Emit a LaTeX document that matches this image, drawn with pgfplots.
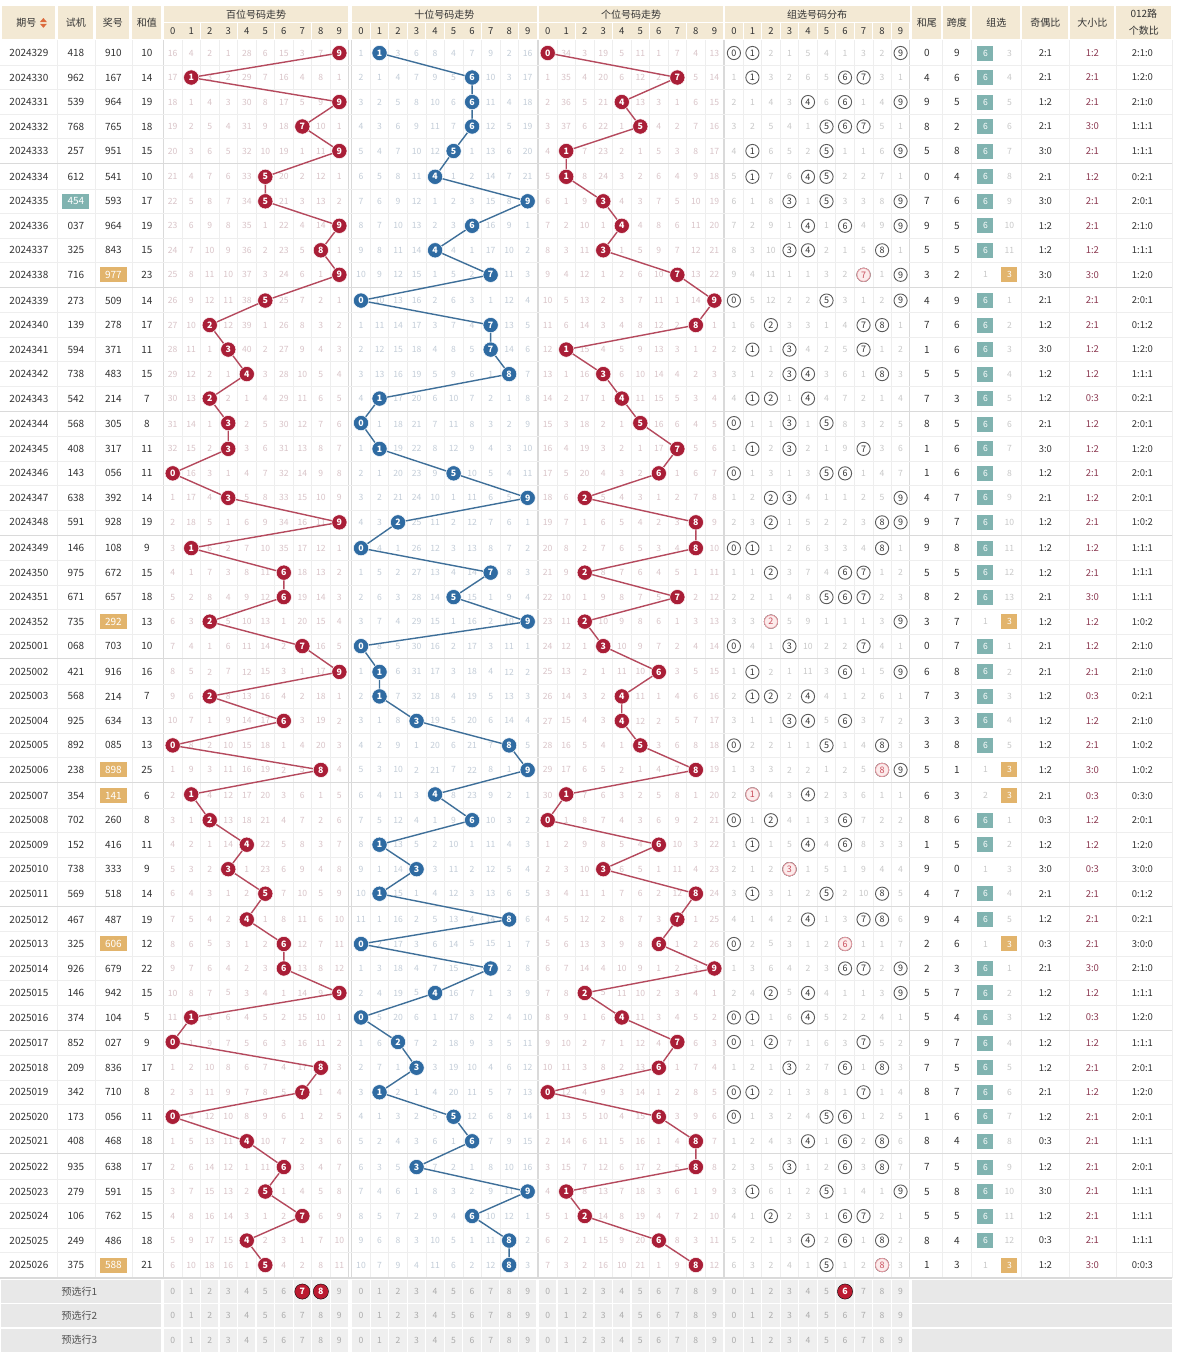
\documentclass[border=0pt]{standalone}
\usepackage{fontspec}
\setmainfont{Noto Sans CJK SC}
\usepackage{pgfplots}
\usepackage{pgfplotstable}
\pgfplotsset{compat=1.18}

\definecolor{hdr}{HTML}{F3E9D4}
\definecolor{txt}{HTML}{333333}
\definecolor{ballr}{HTML}{A91E37}
\definecolor{ballb}{HTML}{2F6BA2}
\definecolor{liner}{HTML}{B5495D}
\definecolor{lineb}{HTML}{3E6F99}
\definecolor{omr}{HTML}{D9C4C8}
\definecolor{omb}{HTML}{C3CDD8}
\definecolor{omg}{HTML}{C8C8C8}
\definecolor{gridc}{HTML}{EEEEEE}
\definecolor{gridd}{HTML}{DADADA}
\definecolor{circ}{HTML}{5A5A5A}
\definecolor{pinkf}{HTML}{FCECEC}
\definecolor{pinkd}{HTML}{E39AA2}
\definecolor{pinkt}{HTML}{C9505E}
\definecolor{teal6}{HTML}{80B3B0}
\definecolor{org3}{HTML}{E2B46C}
\definecolor{bigc}{HTML}{8C3A52}
\definecolor{sortc}{HTML}{DC6A3C}
\definecolor{prelab}{HTML}{E8E8E8}
\definecolor{precell}{HTML}{EFEFEF}
\definecolor{predig}{HTML}{ABABAB}
\definecolor{preball}{HTML}{BB1A30}

% draw results: period, test number, hundreds/tens/units digit, sum
\pgfplotstableread{
qh sj h t u hz
2024329 418 9 1 0 10
2024330 962 1 6 7 14
2024331 539 9 6 4 19
2024332 768 7 6 5 18
2024333 257 9 5 1 15
2024334 612 5 4 1 10
2024335 454 5 9 3 17
2024336 037 9 6 4 19
2024337 325 8 4 3 15
2024338 716 9 7 7 23
2024339 273 5 0 9 14
2024340 139 2 7 8 17
2024341 594 3 7 1 11
2024342 738 4 8 3 15
2024343 542 2 1 4 7
2024344 568 3 0 5 8
2024345 408 3 1 7 11
2024346 143 0 5 6 11
2024347 638 3 9 2 14
2024348 591 9 2 8 19
2024349 146 1 0 8 9
2024350 975 6 7 2 15
2024351 671 6 5 7 18
2024352 735 2 9 2 13
2025001 068 7 0 3 10
2025002 421 9 1 6 16
2025003 568 2 1 4 7
2025004 925 6 3 4 13
2025005 892 0 8 5 13
2025006 238 8 9 8 25
2025007 354 1 4 1 6
2025008 702 2 6 0 8
2025009 152 4 1 6 11
2025010 738 3 3 3 9
2025011 569 5 1 8 14
2025012 467 4 8 7 19
2025013 325 6 0 6 12
2025014 926 6 7 9 22
2025015 146 9 4 2 15
2025016 374 1 0 4 5
2025017 852 0 2 7 9
2025018 209 8 3 6 17
2025019 342 7 1 0 8
2025020 173 0 5 6 11
2025021 408 4 6 8 18
2025022 935 6 3 8 17
2025023 279 5 9 1 15
2025024 106 7 6 2 15
2025025 249 4 8 6 18
2025026 375 5 8 8 21
}\kj

% repeated digit of the 组三 / 豹子 draws (row, digit)
\pgfplotstableread{
i d
9 7
23 2
29 8
30 1
33 3
36 6
49 8
}\dup

\def\xH{172.3}\def\xT{360.6}\def\xU{547.3}\def\xG{733.5}
\def\dx{18.52}
\def\yexpr{53+24.5*\coordindex+1.28*floor(\coordindex/5)}

\tikzset{
  tx/.style={font=\fontsize{10}{12}\selectfont, text=txt, inner sep=0pt},
  om/.style={font=\fontsize{8.6}{10}\selectfont, inner sep=0pt},
  sm/.style={font=\fontsize{8.6}{10}\selectfont, inner sep=0pt},
  hd/.style={font=\fontsize{10}{17}\selectfont, text=txt, inner sep=0pt, align=center},
}

\newcommand\omrow[4]{%
  \foreach \d in {0,...,9}{%
    \ifnum\d=#2\relax
      \expandafter\xdef\csname o#1\d\endcsname{0}%
    \else
      \edef\w{\the\numexpr\csname o#1\d\endcsname+1\relax}%
      \expandafter\xdef\csname o#1\d\endcsname{\w}%
      \node[om,text=#4] at (#3+\dx*\d,\y) {\w};%
    \fi}}
\def\splitsj#1#2#3\relax{\def\sA{#1}\def\sB{#2}\def\sC{#3}}

\begin{document}
\begin{tikzpicture}
\begin{scope}[x=1pt,y=-1pt]
\fill[white] (0,0) rectangle (1176,1360);

% ---- header
\foreach \a/\b/\lab in {58/93/试机, 96/129/奖号, 132/161/和值, 912/941/和尾, 943/970/跨度, 972/1020/组选, 1022/1068/奇偶比, 1070/1114/大小比, 1116/1171/012路\\个数比}{
  \fill[hdr] (\a,6) rectangle (\b,39);
  \node[hd] at ({(\a+\b)/2},22.5) {\lab};}
\fill[hdr] (2,6) rectangle (55,39);
\node[hd] at (26,22.5) {期号};
\fill[sortc] (39.5,22) -- (46.5,22) -- (43,18) -- cycle;
\fill[sortc] (39.5,23.8) -- (46.5,23.8) -- (43,27.8) -- cycle;
\foreach \xs/\lab in {\xH/百位号码走势, \xT/十位号码走势, \xU/个位号码走势, \xG/组选号码分布}{
  \fill[hdr] (\xs-9.1,6) rectangle (\xs+\dx*9+9.1,22);
  \node[hd] at (\xs+\dx*4.5,14.5) {\lab};
  \foreach \d in {0,...,9}{
    \fill[hdr] (\xs+\dx*\d-8.9,23) rectangle (\xs+\dx*\d+8.9,39);
    \node[hd,font=\fontsize{9.5}{10}\selectfont] at (\xs+\dx*\d,31.5) {\d};}}

% ---- vertical grid
\foreach \x in {56.5,94.5,131.5,941.5,970.5,1020.5,1068.5,1115.5,1171.5}
  \draw[gridc,line width=0.8pt] (\x,40) -- (\x,1278);
\foreach \xs in {\xH,\xT,\xU,\xG}{
  \foreach \d in {1,...,9} \draw[gridc,line width=0.6pt] (\xs+\dx*\d-\dx/2,40) -- (\xs+\dx*\d-\dx/2,1278);
  \draw[gridd,line width=0.8pt] (\xs-\dx/2,40) -- (\xs-\dx/2,1278);
  \draw[gridd,line width=0.8pt] (\xs+\dx*9.5,40) -- (\xs+\dx*9.5,1278);}

% ---- omission counters before the first row
\foreach \d/\v in {0/16,1/4,2/2,3/1,4/28,5/6,6/15,7/3,8/7,9/1}{\expandafter\xdef\csname oH\d\endcsname{\the\numexpr\v-1\relax}}
\foreach \d/\v in {0/1,1/1,2/3,3/6,4/8,5/4,6/7,7/9,8/2,9/16}{\expandafter\xdef\csname oT\d\endcsname{\the\numexpr\v-1\relax}}
\foreach \d/\v in {0/1,1/34,2/3,3/19,4/5,5/11,6/1,7/7,8/4,9/13}{\expandafter\xdef\csname oU\d\endcsname{\the\numexpr\v-1\relax}}
\foreach \d/\v in {0/1,1/1,2/2,3/1,4/5,5/4,6/1,7/3,8/2,9/1}{\expandafter\xdef\csname oG\d\endcsname{\the\numexpr\v-1\relax}}
\xdef\gthree{2}\xdef\gsix{0}

% ---- rows
\foreach \i in {0,...,49}{
  \pgfplotstablegetelem{\i}{qh}\of\kj \let\qh\pgfplotsretval
  \pgfplotstablegetelem{\i}{sj}\of\kj \let\sj\pgfplotsretval
  \pgfplotstablegetelem{\i}{h}\of\kj \let\dH\pgfplotsretval
  \pgfplotstablegetelem{\i}{t}\of\kj \let\dT\pgfplotsretval
  \pgfplotstablegetelem{\i}{u}\of\kj \let\dU\pgfplotsretval
  \pgfplotstablegetelem{\i}{hz}\of\kj \let\hz\pgfplotsretval
  \pgfmathsetmacro\y{53+24.5*\i+1.28*floor(\i/5)}
  \pgfmathtruncatemacro\grp{mod(\i,5)}
  \ifnum\grp=4
    \draw[gridd,line width=0.8pt] (0,\y+12.6) -- (1172,\y+12.6);
  \else
    \draw[gridc,line width=0.7pt] (0,\y+12.25) -- (1172,\y+12.25);
  \fi
  \node[tx] at (28.5,\y) {\qh};
  % test number, teal if it has a repeated digit
  \expandafter\splitsj\sj\relax
  \def\rep{0}%
  \ifnum\sA=\sB\relax\def\rep{1}\fi
  \ifnum\sB=\sC\relax\def\rep{1}\fi
  \ifnum\sA=\sC\relax\def\rep{1}\fi
  \ifnum\rep=1
    \fill[teal6] (62,\y-7.5) rectangle (89,\y+7.5);
    \node[tx,text=white] at (75.5,\y) {\sj};
  \else
    \node[tx] at (75.5,\y) {\sj};
  \fi
  % draw type
  \def\typ{6}%
  \ifnum\dH=\dT\relax\def\typ{3}\fi
  \ifnum\dT=\dU\relax\def\typ{3}\fi
  \ifnum\dH=\dU\relax\def\typ{3}\fi
  \ifnum\dH=\dT\relax\ifnum\dT=\dU\relax\def\typ{0}\fi\fi
  \ifnum\typ=3
    \fill[org3] (99.5,\y-7.5) rectangle (126.5,\y+7.5);
    \node[tx,text=white] at (113,\y) {\dH\dT\dU};
  \else
    \node[tx] at (113,\y) {\dH\dT\dU};
  \fi
  \node[tx] at (146.5,\y) {\hz};
  % omissions
  \omrow{H}{\dH}{\xH}{omr}
  \omrow{T}{\dT}{\xT}{omb}
  \omrow{U}{\dU}{\xU}{omr}
  \foreach \d in {0,...,9}{%
    \def\hit{0}%
    \ifnum\d=\dH\relax\def\hit{1}\fi
    \ifnum\d=\dT\relax\def\hit{1}\fi
    \ifnum\d=\dU\relax\def\hit{1}\fi
    \ifnum\hit=1
      \expandafter\xdef\csname oG\d\endcsname{0}%
    \else
      \edef\w{\the\numexpr\csname oG\d\endcsname+1\relax}%
      \expandafter\xdef\csname oG\d\endcsname{\w}%
      \node[om,text=omg] at (\xG+\dx*\d,\y) {\w};%
    \fi}
  % derived columns
  \pgfmathtruncatemacro\hw{mod(\hz,10)}
  \pgfmathtruncatemacro\kd{max(\dH,\dT,\dU)-min(\dH,\dT,\dU)}
  \pgfmathtruncatemacro\nodd{mod(\dH,2)+mod(\dT,2)+mod(\dU,2)}
  \pgfmathtruncatemacro\neven{3-\nodd}
  \pgfmathtruncatemacro\nbig{(\dH>4)+(\dT>4)+(\dU>4)}
  \pgfmathtruncatemacro\nsmall{3-\nbig}
  \pgfmathtruncatemacro\nA{(mod(\dH,3)==0)+(mod(\dT,3)==0)+(mod(\dU,3)==0)}
  \pgfmathtruncatemacro\nB{(mod(\dH,3)==1)+(mod(\dT,3)==1)+(mod(\dU,3)==1)}
  \pgfmathtruncatemacro\nC{3-\nA-\nB}
  \node[tx] at (926.5,\y) {\hw};
  \node[tx] at (956.5,\y) {\kd};
  \ifnum\typ=6
    \xdef\gsix{0}\xdef\gthree{\the\numexpr\gthree+1\relax}%
    \fill[teal6] (977,\y-7.5) rectangle (993,\y+7.5);
    \node[sm,text=white] at (985,\y) {6};
    \node[om,text=omg] at (1009,\y) {\gthree};
  \else\ifnum\typ=3
    \xdef\gthree{0}\xdef\gsix{\the\numexpr\gsix+1\relax}%
    \node[om,text=omg] at (985,\y) {\gsix};
    \fill[org3] (1001,\y-7.5) rectangle (1017,\y+7.5);
    \node[sm,text=white] at (1009,\y) {3};
  \else
    \xdef\gsix{\the\numexpr\gsix+1\relax}\xdef\gthree{\the\numexpr\gthree+1\relax}%
    \node[om,text=omg] at (985,\y) {\gsix};
    \node[om,text=omg] at (1009,\y) {\gthree};
  \fi\fi
  \node[tx,font=\fontsize{9.5}{11}\selectfont] at (1045,\y) {\nodd:\neven};
  \node[tx,font=\fontsize{9.5}{11}\selectfont,text=bigc] at (1092,\y) {\nbig:\nsmall};
  \node[tx,font=\fontsize{9.5}{11}\selectfont] at (1142,\y) {\nA:\nB:\nC};
}

% ---- preselection rows
\draw[gridd,line width=0.8pt] (0,1278.5) -- (1172,1278.5);
\foreach \r in {0,1,2}{
  \pgfmathsetmacro\y{1291.5+24.3*\r}
  \pgfmathtruncatemacro\rr{\r+1}
  \fill[prelab] (0.5,\y-11.6) rectangle (160.5,\y+11.6);
  \node[tx,text=txt!85] at (79,\y) {预选行\rr};
  \foreach \xs in {\xH,\xT,\xU,\xG}{
    \foreach \d in {0,...,9}{
      \fill[precell] (\xs+\dx*\d-8.7,\y-11.6) rectangle (\xs+\dx*\d+8.7,\y+11.6);
      \node[om,text=predig] at (\xs+\dx*\d,\y) {\d};}}
  \fill[prelab] (912,\y-11.6) rectangle (1172,\y+11.6);
}
\end{scope}

\begin{axis}[at={(0,0)}, anchor=north west, x=1pt, y=1pt, y dir=reverse,
  xmin=0, xmax=1176, ymin=0, ymax=1360, hide axis, clip=false,
  point meta=explicit symbolic, nodes near coords={\pgfplotspointmeta},
  nodes near coords align=center,
  every node near coord/.append style={font=\fontsize{8.8}{9}\selectfont\bfseries, text=white, inner sep=0pt, anchor=center}]
% hundreds
\addplot[color=liner, line width=1.4pt, mark=*, mark size=7.6pt,
  mark options={fill=ballr, draw=white, line width=0.5pt}]
  table[x expr=\xH+\dx*\thisrow{h}, y expr=\yexpr, meta=h] {\kj};
% tens
\addplot[color=lineb, line width=1.4pt, mark=*, mark size=7.6pt,
  mark options={fill=ballb, draw=white, line width=0.5pt}]
  table[x expr=\xT+\dx*\thisrow{t}, y expr=\yexpr, meta=t] {\kj};
% units
\addplot[color=liner, line width=1.4pt, mark=*, mark size=7.6pt,
  mark options={fill=ballr, draw=white, line width=0.5pt}]
  table[x expr=\xU+\dx*\thisrow{u}, y expr=\yexpr, meta=u] {\kj};
% group distribution
\addplot[only marks, mark=*, mark size=6.6pt, mark options={fill=white, draw=circ, line width=0.9pt},
  every node near coord/.append style={text=txt, font=\fontsize{9}{9}\selectfont}]
  table[x expr=\xG+\dx*\thisrow{h}, y expr=\yexpr, meta=h] {\kj};
\addplot[only marks, mark=*, mark size=6.6pt, mark options={fill=white, draw=circ, line width=0.9pt},
  every node near coord/.append style={text=txt, font=\fontsize{9}{9}\selectfont}]
  table[x expr=\xG+\dx*\thisrow{t}, y expr=\yexpr, meta=t] {\kj};
\addplot[only marks, mark=*, mark size=6.6pt, mark options={fill=white, draw=circ, line width=0.9pt},
  every node near coord/.append style={text=txt, font=\fontsize{9}{9}\selectfont}]
  table[x expr=\xG+\dx*\thisrow{u}, y expr=\yexpr, meta=u] {\kj};
\addplot[only marks, mark=*, mark size=6.6pt, mark options={fill=pinkf, draw=pinkd, line width=0.9pt},
  every node near coord/.append style={text=pinkt, font=\fontsize{9}{9}\selectfont}]
  table[x expr=\xG+\dx*\thisrow{d}, y expr={53+24.5*\thisrow{i}+1.28*floor(\thisrow{i}/5)}, meta=d] {\dup};
% preselection row 1
\addplot[only marks, mark=*, mark size=7.6pt, mark options={fill=preball, draw=none}]
  table[row sep=\\, x expr=\xH+\dx*\thisrow{d}, y expr=1291.5, meta=d] {d\\7\\8\\};
\addplot[only marks, mark=*, mark size=7.6pt, mark options={fill=preball, draw=none}]
  table[row sep=\\, x expr=\xG+\dx*\thisrow{d}, y expr=1291.5, meta=d] {d\\6\\};
\end{axis}
\end{tikzpicture}
\end{document}
